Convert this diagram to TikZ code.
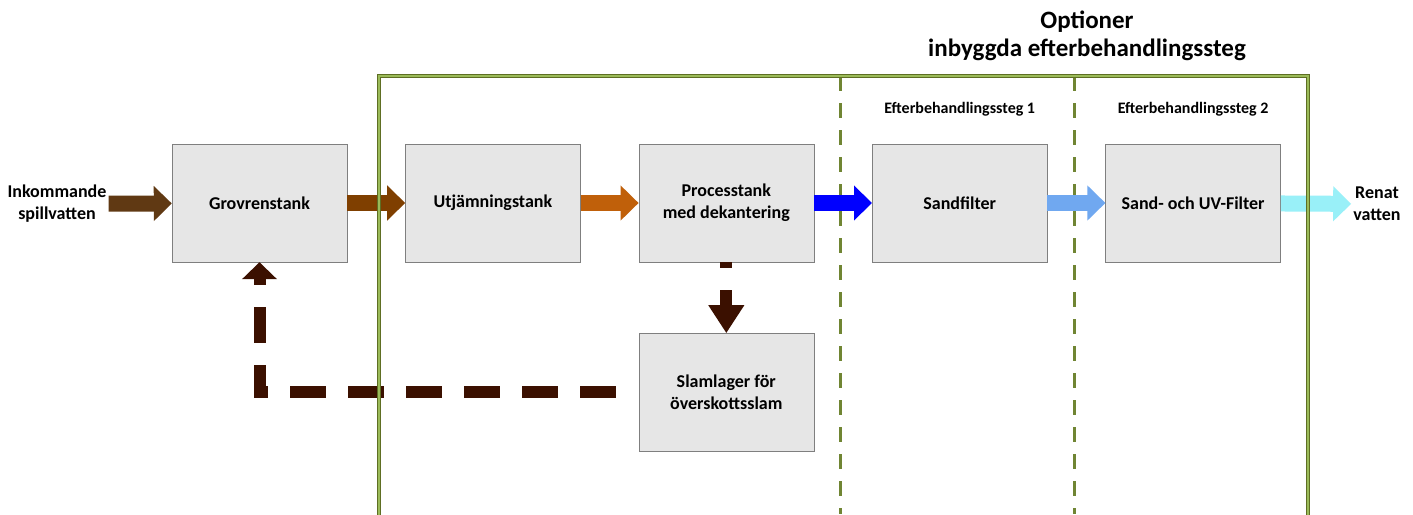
\documentclass[tikz,border=0pt]{standalone}
\usepackage{fontspec}
\setmainfont{Carlito}
\usetikzlibrary{arrows.meta, positioning}
\definecolor{tankColor}{HTML}{E6E6E6}
\definecolor{tankBorder}{HTML}{7F7F7F}
\definecolor{frameDark}{HTML}{5E6E23}
\definecolor{frameLight}{HTML}{9BBB59}
\definecolor{rawColor}{HTML}{603913}
\definecolor{grovColor}{HTML}{7F3F00}
\definecolor{utjColor}{HTML}{C0600A}
\definecolor{cleanColor}{HTML}{0000FF}
\definecolor{sandColor}{HTML}{70A8F0}
\definecolor{outColor}{HTML}{99F0F8}
\definecolor{sludgeColor}{HTML}{3B1000}
\tikzstyle{tank} = [rectangle,
minimum width=175pt,
minimum height=118pt,
align=center,
draw=tankBorder,
fill=tankColor,
font=\bfseries\fontsize{18}{22}\selectfont]
\tikzstyle{flowtext} = [align=center, inner sep=2pt,
font=\bfseries\fontsize{18}{22}\selectfont]
\tikzstyle{steplabel} = [align=center,
font=\bfseries\fontsize{16}{19}\selectfont]
\tikzstyle{titletext} = [align=center,
font=\bfseries\fontsize{25}{28}\selectfont]
\tikzstyle{flow} = [line width=16pt, -{Triangle[length=18pt,width=34pt]}]
\tikzstyle{sludge} = [line width=12pt, sludgeColor,
dash pattern=on 36pt off 22pt]

\tikzstyle{frame} = [line width=1pt, draw=frameDark, double=frameLight, double distance=1.6pt]
\tikzstyle{divider} = [line width=3pt, frameDark!70!frameLight, dash pattern=on 15pt off 12pt]

\begin{document}
\begin{tikzpicture}[x=1pt,y=-1pt,node distance=58pt and 58pt]
    \useasboundingbox[fill=white] (0,0) rectangle (1413,514);
    % Nodes
    \node[tank] (grov) at (259.5,203) {Grovrenstank};
    \node[tank, right=of grov] (utj) {Utjämningstank};
    \node[tank, right=of utj] (process) {Processtank\\med dekantering};
    \node[tank, right=of process] (sand) {Sandfilter};
    \node[tank, right=of sand] (sanduv) {Sand- och UV-Filter};
    \node[tank, below=71pt of process] (slam) {Slamlager för\\överskottsslam};
    \node[flowtext] (in) at (57,204) {Inkommande\\spillvatten};
    \node[flowtext] (out) at (1377,204) {Renat\\vatten};
    \node[steplabel, above=24pt of sand] (steg1) {Efterbehandlingssteg 1};
    \node[steplabel, above=24pt of sanduv] (steg2) {Efterbehandlingssteg 2};
    \node[titletext] (title) at (1087,36) {Optioner\\inbyggda efterbehandlingssteg};

    % Frame
    \draw[divider] (840,76) -- (840,514);
    \draw[divider] (1074,76) -- (1074,514);

    % Arrows
    \draw[flow, rawColor] (in) -- (grov);
    \draw[flow, grovColor] (grov) -- (utj);
    \draw[flow, utjColor] (utj) -- (process);
    \draw[flow, cleanColor] (process) -- (sand);
    \draw[flow, sandColor] (sand) -- (sanduv);
    \draw[flow, outColor] (sanduv) -- (out);
    \draw[sludge, dash phase=30pt, -{Triangle[length=28pt,width=34pt]}] (process) -- (slam);
    \draw[sludge, shorten <=23pt, -{Triangle[length=17pt,width=34pt]}] (slam.west) -| (grov.south);

    \draw[frame] (379,520) |- (1308,76) -- (1308,520);
\end{tikzpicture}
\end{document}
